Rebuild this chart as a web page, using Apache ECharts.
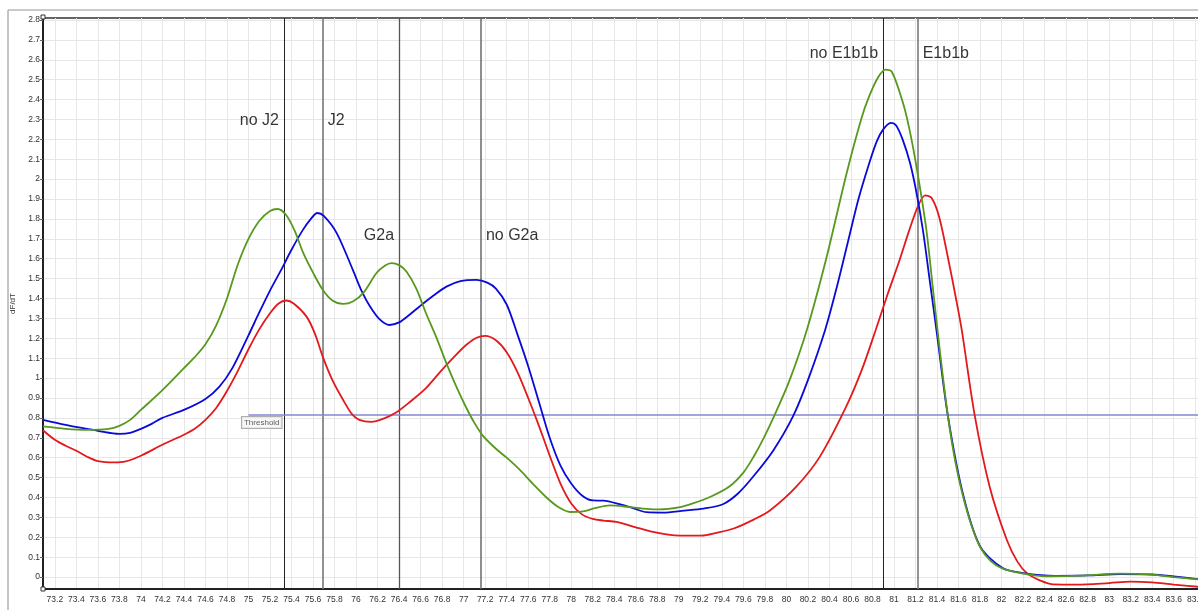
<!DOCTYPE html>
<html>
<head>
<meta charset="utf-8">
<script src="https://cdn.jsdelivr.net/npm/echarts@6/dist/echarts.min.js"></script>
<style>
  html, body { margin: 0; padding: 0; background: #ffffff; }
  #chart { width: 1198px; height: 610px; }
</style>
</head>
<body>
<div id="chart"></div>
<script>
// Melt curve derivative (dF/dT) against temperature (deg)
const xTicks = [73.2, 73.4, 73.6, 73.8, 74, 74.2, 74.4, 74.6, 74.8, 75, 75.2, 75.4, 75.6, 75.8, 76,
  76.2, 76.4, 76.6, 76.8, 77, 77.2, 77.4, 77.6, 77.8, 78, 78.2, 78.4, 78.6, 78.8, 79, 79.2, 79.4,
  79.6, 79.8, 80, 80.2, 80.4, 80.6, 80.8, 81, 81.2, 81.4, 81.6, 81.8, 82, 82.2, 82.4, 82.6, 82.8,
  83, 83.2, 83.4, 83.6, 83.8, 84, 84.2];
const yTicks = [0, 0.1, 0.2, 0.3, 0.4, 0.5, 0.6, 0.7, 0.8, 0.9, 1, 1.1, 1.2, 1.3, 1.4, 1.5, 1.6,
  1.7, 1.8, 1.9, 2, 2.1, 2.2, 2.3, 2.4, 2.5, 2.6, 2.7, 2.8];

const greenCurve = [
  [73.09, 0.757], [73.3, 0.745], [73.5, 0.74], [73.7, 0.745], [73.8, 0.76], [73.9, 0.79],
  [74.0, 0.84], [74.2, 0.94], [74.4, 1.05], [74.5, 1.105], [74.6, 1.17], [74.7, 1.265],
  [74.8, 1.40], [74.9, 1.57], [75.0, 1.70], [75.1, 1.79], [75.2, 1.84], [75.27, 1.85],
  [75.35, 1.82], [75.43, 1.74], [75.51, 1.628], [75.6, 1.53], [75.69, 1.444], [75.78, 1.39],
  [75.88, 1.373], [75.97, 1.385], [76.07, 1.43], [76.19, 1.528], [76.27, 1.566], [76.33, 1.578],
  [76.4, 1.568], [76.47, 1.535], [76.56, 1.45], [76.65, 1.326], [76.75, 1.2], [76.84, 1.074],
  [76.93, 0.96], [77.02, 0.856], [77.1, 0.775], [77.18, 0.71], [77.3, 0.645], [77.4, 0.60],
  [77.52, 0.54], [77.65, 0.465], [77.77, 0.40], [77.88, 0.352], [77.99, 0.327], [78.11, 0.33],
  [78.22, 0.346], [78.36, 0.36], [78.54, 0.352], [78.7, 0.343], [78.82, 0.34], [79.0, 0.35],
  [79.13, 0.37], [79.3, 0.405], [79.47, 0.455], [79.6, 0.525], [79.69, 0.60], [79.79, 0.70],
  [79.89, 0.814], [80.03, 0.99], [80.19, 1.242], [80.37, 1.60], [80.56, 2.03], [80.7, 2.31],
  [80.77, 2.417], [80.85, 2.51], [80.92, 2.551], [80.98, 2.54], [81.08, 2.39], [81.14, 2.26],
  [81.21, 2.06], [81.3, 1.75], [81.36, 1.46], [81.43, 1.12], [81.5, 0.814], [81.57, 0.58],
  [81.64, 0.41], [81.72, 0.26], [81.8, 0.151], [81.9, 0.08], [82.01, 0.042], [82.2, 0.017],
  [82.42, 0.004], [82.73, 0.007], [83.1, 0.017], [83.4, 0.012], [83.6, 0.0], [83.9, -0.015]
];

const blueCurve = [
  [73.09, 0.79], [73.3, 0.765], [73.5, 0.745], [73.6, 0.735], [73.8, 0.72], [73.9, 0.725],
  [74.0, 0.745], [74.1, 0.77], [74.2, 0.80], [74.4, 0.84], [74.6, 0.895], [74.73, 0.957],
  [74.85, 1.05], [75.0, 1.215], [75.1, 1.33], [75.2, 1.44], [75.3, 1.54], [75.4, 1.645],
  [75.5, 1.74], [75.58, 1.80], [75.64, 1.83], [75.7, 1.815], [75.82, 1.729], [75.97, 1.544],
  [76.05, 1.44], [76.13, 1.36], [76.22, 1.295], [76.31, 1.267], [76.4, 1.28], [76.5, 1.32],
  [76.59, 1.36], [76.72, 1.415], [76.84, 1.46], [76.97, 1.488], [77.12, 1.494], [77.22, 1.48],
  [77.3, 1.45], [77.4, 1.37], [77.5, 1.22], [77.6, 1.06], [77.7, 0.88], [77.8, 0.70],
  [77.9, 0.56], [78.0, 0.47], [78.1, 0.41], [78.2, 0.385], [78.3, 0.384], [78.45, 0.366],
  [78.58, 0.345], [78.7, 0.326], [78.85, 0.324], [79.05, 0.334], [79.23, 0.344], [79.41, 0.366],
  [79.55, 0.42], [79.69, 0.504], [79.88, 0.638], [80.06, 0.806], [80.2, 0.99], [80.36, 1.242],
  [80.47, 1.46], [80.57, 1.68], [80.67, 1.90], [80.77, 2.08], [80.84, 2.19], [80.9, 2.25],
  [80.97, 2.283], [81.02, 2.27], [81.08, 2.20], [81.15, 2.08], [81.21, 1.93], [81.27, 1.74],
  [81.33, 1.50], [81.4, 1.22], [81.5, 0.814], [81.64, 0.42], [81.8, 0.155], [82.01, 0.045],
  [82.2, 0.02], [82.5, 0.006], [82.8, 0.008], [83.1, 0.015], [83.4, 0.013], [83.6, 0.003],
  [83.9, -0.015]
];

const redCurve = [
  [73.09, 0.738], [73.2, 0.69], [73.3, 0.66], [73.4, 0.635], [73.5, 0.605], [73.6, 0.583],
  [73.75, 0.576], [73.85, 0.58], [74.0, 0.61], [74.2, 0.665], [74.4, 0.715], [74.5, 0.745],
  [74.6, 0.79], [74.7, 0.85], [74.8, 0.935], [74.9, 1.035], [75.0, 1.145], [75.1, 1.245],
  [75.2, 1.326], [75.28, 1.375], [75.35, 1.39], [75.42, 1.375], [75.54, 1.309], [75.62, 1.22],
  [75.69, 1.108], [75.78, 0.99], [75.88, 0.89], [75.96, 0.82], [76.03, 0.79], [76.14, 0.78],
  [76.25, 0.795], [76.38, 0.83], [76.5, 0.88], [76.65, 0.95], [76.78, 1.03], [76.9, 1.10],
  [77.02, 1.165], [77.12, 1.203], [77.2, 1.212], [77.3, 1.19], [77.4, 1.13], [77.5, 1.03],
  [77.6, 0.90], [77.7, 0.76], [77.8, 0.61], [77.9, 0.47], [78.0, 0.37], [78.1, 0.315],
  [78.2, 0.292], [78.3, 0.284], [78.42, 0.277], [78.6, 0.25], [78.76, 0.227], [78.9, 0.213],
  [79.01, 0.208], [79.21, 0.208], [79.35, 0.222], [79.51, 0.244], [79.7, 0.29], [79.85, 0.336],
  [80.09, 0.453], [80.31, 0.604], [80.55, 0.85], [80.7, 1.04], [80.83, 1.242], [80.94, 1.42],
  [81.05, 1.59], [81.14, 1.74], [81.22, 1.86], [81.29, 1.918], [81.35, 1.905], [81.42, 1.81],
  [81.5, 1.61], [81.58, 1.39], [81.63, 1.242], [81.75, 0.814], [81.89, 0.453], [82.05, 0.185],
  [82.15, 0.075], [82.24, 0.017], [82.35, -0.015], [82.48, -0.037], [82.7, -0.038],
  [83.0, -0.03], [83.2, -0.023], [83.4, -0.027], [83.6, -0.038], [83.9, -0.052]
];

// Genotype marker temperatures and their captions
const markerTemps = [75.33, 75.69, 76.40, 77.16, 80.90, 81.22];
const markerNames = ['no J2', 'J2', 'G2a', 'no G2a', 'no E1b1b', 'E1b1b'];
const markerLabelY = [2.295, 2.295, 1.715, 1.715, 2.63, 2.63];

const thresholdValue = 0.814;
const thresholdStart = 75.0;

const X_MIN = 73.09, X_MAX = 84.3, Y_MIN = -0.06, Y_MAX = 2.81;
// plot box runs past the right edge of the page
const GRID = { left: 43, top: 18, width: 1206, height: 571 };
const PAGE_H = 610;

const chart = echarts.init(document.getElementById('chart'), null, { renderer: 'canvas' });

const markerShade = ['#222222', '#777777', '#555555', '#6a6a6a', '#222222', '#7a7a7a'];
const markerWidth = [1, 1.6, 1.3, 1.5, 1, 1.6];
const markerSide = ['left', 'right', 'left', 'right', 'left', 'right'];

const FONT = 'Liberation Sans, Arial, sans-serif';
const tickFont = { fontFamily: FONT, fontSize: 8.5, color: '#333' };
const gridLine = { color: '#e7e7e7', width: 1, type: 'solid' };

const option = {
  animation: false,
  backgroundColor: '#ffffff',
  grid: {
    left: GRID.left, top: GRID.top, width: GRID.width, height: GRID.height,
    outerBoundsMode: 'none', containLabel: false,
    show: true, borderColor: '#333', borderWidth: 1.5, backgroundColor: 'transparent'
  },
  xAxis: {
    type: 'value', min: X_MIN, max: X_MAX,
    name: 'deg', nameLocation: 'middle', nameGap: 16,
    nameTextStyle: { fontFamily: FONT, fontSize: 8, color: '#333' },
    axisLine: { show: true, onZero: false, lineStyle: { color: '#222', width: 2 } },
    axisTick: { show: false, customValues: xTicks },
    axisLabel: Object.assign({ customValues: xTicks, margin: 6, showMinLabel: true, formatter: v => String(v) }, tickFont),
    splitLine: { show: false },
    minorSplitLine: { show: false }
  },
  yAxis: {
    type: 'value', min: Y_MIN, max: Y_MAX,
    name: 'dF/dT', nameLocation: 'middle', nameGap: 24,
    nameTextStyle: { fontFamily: FONT, fontSize: 8, color: '#333' },
    axisLine: { show: true, onZero: false, lineStyle: { color: '#222', width: 2 } },
    axisTick: { show: true, length: 3, customValues: yTicks, lineStyle: { color: '#666' } },
    axisLabel: Object.assign({ customValues: yTicks, margin: 3, formatter: v => String(v) }, tickFont),
    splitLine: { show: false },
    minorSplitLine: { show: false }
  },
  series: [
    {
      // background grid at the labelled tick values
      name: 'gridlines', type: 'line', data: [], silent: true, z: 0,
      markLine: {
        z: 0, silent: true, symbol: ['none', 'none'], animation: false,
        label: { show: false }, lineStyle: gridLine,
        data: xTicks.map(v => ({ xAxis: v })).concat(yTicks.map(v => ({ yAxis: v })))
      }
    },
    {
      name: 'markers', type: 'line', data: [], silent: true, z: 1,
      markLine: {
        z: 1, silent: true, symbol: ['none', 'none'], animation: false,
        label: { show: false },
        data: markerTemps.map((t, i) => ({
          xAxis: t,
          lineStyle: { color: markerShade[i], width: markerWidth[i], type: 'solid' }
        })).concat([[
          { coord: [thresholdStart, thresholdValue], lineStyle: { color: '#8585d2', width: 1.6, type: 'solid' } },
          { coord: [X_MAX, thresholdValue] }
        ]])
      }
    },
    {
      name: 'red', type: 'line', data: redCurve, smooth: 0.3, showSymbol: false, symbol: 'none',
      lineStyle: { color: '#e3191b', width: 1.8 }, z: 3
    },
    {
      name: 'blue', type: 'line', data: blueCurve, smooth: 0.3, showSymbol: false, symbol: 'none',
      lineStyle: { color: '#0a0ad8', width: 1.8 }, z: 4
    },
    {
      name: 'green', type: 'line', data: greenCurve, smooth: 0.3, showSymbol: false, symbol: 'none',
      lineStyle: { color: '#57991e', width: 1.8 }, z: 5
    },
    {
      name: 'captions', type: 'scatter', silent: true, symbolSize: 0.1,
      itemStyle: { color: 'rgba(0,0,0,0)' }, z: 6,
      data: markerTemps.map((t, i) => ({
        value: [t, markerLabelY[i]],
        label: {
          show: true, position: markerSide[i], distance: 5,
          formatter: markerNames[i],
          fontFamily: FONT, fontSize: 16, color: '#000'
        }
      }))
    },
    {
      name: 'thresholdTag', type: 'scatter', silent: true, symbolSize: 0.1,
      itemStyle: { color: 'rgba(0,0,0,0)' }, z: 7,
      data: [{
        value: [thresholdStart - 0.06, thresholdValue],
        label: {
          show: true, position: [0, 2], formatter: 'Threshold',
          fontFamily: FONT, fontSize: 8, color: '#333',
          backgroundColor: '#f6f6f6', borderColor: '#9a9a9a', borderWidth: 1,
          padding: [2, 2, 1, 2]
        }
      }]
    }
  ],
  graphic: [
    { type: 'line', shape: { x1: 8, y1: 10, x2: 8, y2: PAGE_H }, style: { stroke: '#b0b0b0', lineWidth: 1.5 }, silent: true },
    { type: 'line', shape: { x1: 8, y1: 10, x2: 1198, y2: 10 }, style: { stroke: '#b8b8b8', lineWidth: 1.5 }, silent: true },
    { type: 'rect', shape: { x: GRID.left - 2, y: GRID.top - 3, width: 4, height: 4 }, style: { fill: '#fff', stroke: '#333', lineWidth: 1 }, z: 100, silent: true },
    { type: 'rect', shape: { x: GRID.left - 2, y: GRID.top + GRID.height - 2, width: 4, height: 4 }, style: { fill: '#fff', stroke: '#333', lineWidth: 1 }, z: 100, silent: true }
  ]
};

chart.setOption(option);
</script>
</body>
</html>
